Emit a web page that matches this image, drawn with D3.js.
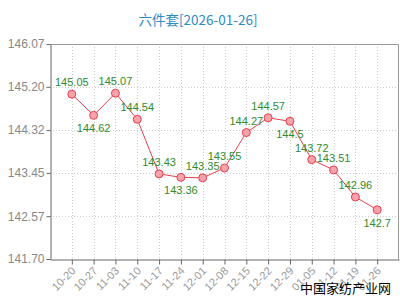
<!DOCTYPE html>
<html>
<head>
<meta charset="utf-8">
<script src="https://cdn.jsdelivr.net/npm/d3@7"></script>
<style>
  body { margin: 0; background: #fff; }
  svg { display: block; }
</style>
</head>
<body>
<main></main>
<script>
const title = "六件套[2026-01-26]"
const dates = ["10-20", "10-27", "11-03", "11-10", "11-17", "11-24", "12-01", "12-08",
  "12-15", "12-22", "12-29", "01-05", "01-12", "01-19", "01-26"]
const prices = [145.05, 144.62, 145.07, 144.54, 143.43, 143.36, 143.35, 143.55,
  144.27, 144.57, 144.5, 143.72, 143.51, 142.96, 142.7]
// labels drawn under the point instead of above it
const below = ["10-27", "11-24", "12-29", "01-26"]
const yTicks = [141.70, 142.57, 143.45, 144.32, 145.20, 146.07]

const w = 400
const h = 300
const padLeft = 50
const padRight = 399
const padTop = 44
const padBottom = 259

const svg = d3.select("main").append("svg").attr("width", w).attr("height", h)
  .style("font-family", "'Liberation Sans', Arial, sans-serif")

const xScale = d3.scalePoint().domain(dates).range([padLeft, padRight]).padding(1)
const yScale = d3.scaleLinear().domain([141.70, 146.07]).range([padBottom, padTop])

// grid
svg.append("g")
  .selectAll("line")
  .data(dates)
  .enter()
  .append("line")
  .attr("x1", (d) => Math.round(xScale(d)) + 0.5)
  .attr("x2", (d) => Math.round(xScale(d)) + 0.5)
  .attr("y1", padTop)
  .attr("y2", padBottom)
  .attr("stroke", "#ccc")
  .attr("stroke-dasharray", "1,2")

svg.append("g")
  .selectAll("line")
  .data(yTicks.slice(1, -1))
  .enter()
  .append("line")
  .attr("x1", padLeft)
  .attr("x2", padRight)
  .attr("y1", (d) => Math.round(yScale(d)) + 0.5)
  .attr("y2", (d) => Math.round(yScale(d)) + 0.5)
  .attr("stroke", "#ccc")
  .attr("stroke-dasharray", "1,2")

// frame
svg.append("path")
  .attr("d", `M${padLeft + 0.5},${padTop + 0.5}H${padRight - 0.5}V${padBottom + 0.5}`)
  .attr("fill", "none")
  .attr("stroke", "#999")

const yAxis = d3.axisLeft(yScale).tickValues(yTicks).tickFormat(d3.format(".2f"))
  .tickSize(4).tickPadding(2).tickSizeOuter(0)
svg.append("g")
  .attr("transform", `translate(${padLeft + 0.5}, 0)`)
  .call(yAxis)
  .call((g) => g.select(".domain").attr("stroke", "#666"))
  .call((g) => g.selectAll(".tick line").attr("stroke", "#666"))
  .call((g) => g.selectAll("text").attr("fill", "#888").attr("font-size", 12)
    .attr("font-family", "'Liberation Sans', Arial, sans-serif"))

const xAxis = d3.axisBottom(xScale).tickSize(5).tickSizeOuter(0)
svg.append("g")
  .attr("transform", `translate(0, ${padBottom + 0.5})`)
  .call(xAxis)
  .call((g) => g.select(".domain").attr("stroke", "#666"))
  .call((g) => g.selectAll(".tick line").attr("stroke", "#666"))
  .call((g) => g.selectAll("text")
    .attr("fill", "#999")
    .attr("font-size", 11)
    .attr("font-family", "'Liberation Sans', Arial, sans-serif")
    .attr("text-anchor", "end")
    .attr("dy", null)
    .attr("y", 0)
    .attr("transform", "translate(4, 12) rotate(-45)"))

const line = d3.line()
  .x((d, i) => xScale(dates[i]))
  .y((d) => yScale(d))

svg.append("path")
  .datum(prices)
  .attr("d", line)
  .attr("fill", "none")
  .attr("stroke", "#e8404f")
  .attr("stroke-width", 1)

svg.append("g")
  .selectAll("circle")
  .data(prices)
  .enter()
  .append("circle")
  .attr("cx", (d, i) => xScale(dates[i]))
  .attr("cy", (d) => yScale(d))
  .attr("r", 4)
  .attr("fill", "#f7a3ab")
  .attr("stroke", "#e8404f")

svg.append("g")
  .selectAll("text")
  .data(prices)
  .enter()
  .append("text")
  .attr("x", (d, i) => xScale(dates[i]))
  .attr("y", (d, i) => yScale(d) + (below.includes(dates[i]) ? 17 : -8))
  .attr("text-anchor", "middle")
  .attr("font-size", 11)
  .attr("fill", "#2e8b2e")
  .text((d) => d)

svg.append("text")
  .attr("x", 198)
  .attr("y", 25)
  .attr("text-anchor", "middle")
  .attr("font-size", 13.5)
  .attr("font-family", "'Noto Sans CJK SC', sans-serif")
  .attr("fill", "#2b8bc6")
  .text(title)

svg.append("text")
  .attr("x", 300)
  .attr("y", 293)
  .attr("font-size", 13)
  .attr("font-family", "'Noto Sans CJK SC', sans-serif")
  .attr("fill", "#000")
  .text("中国家纺产业网")
</script>
</body>
</html>
